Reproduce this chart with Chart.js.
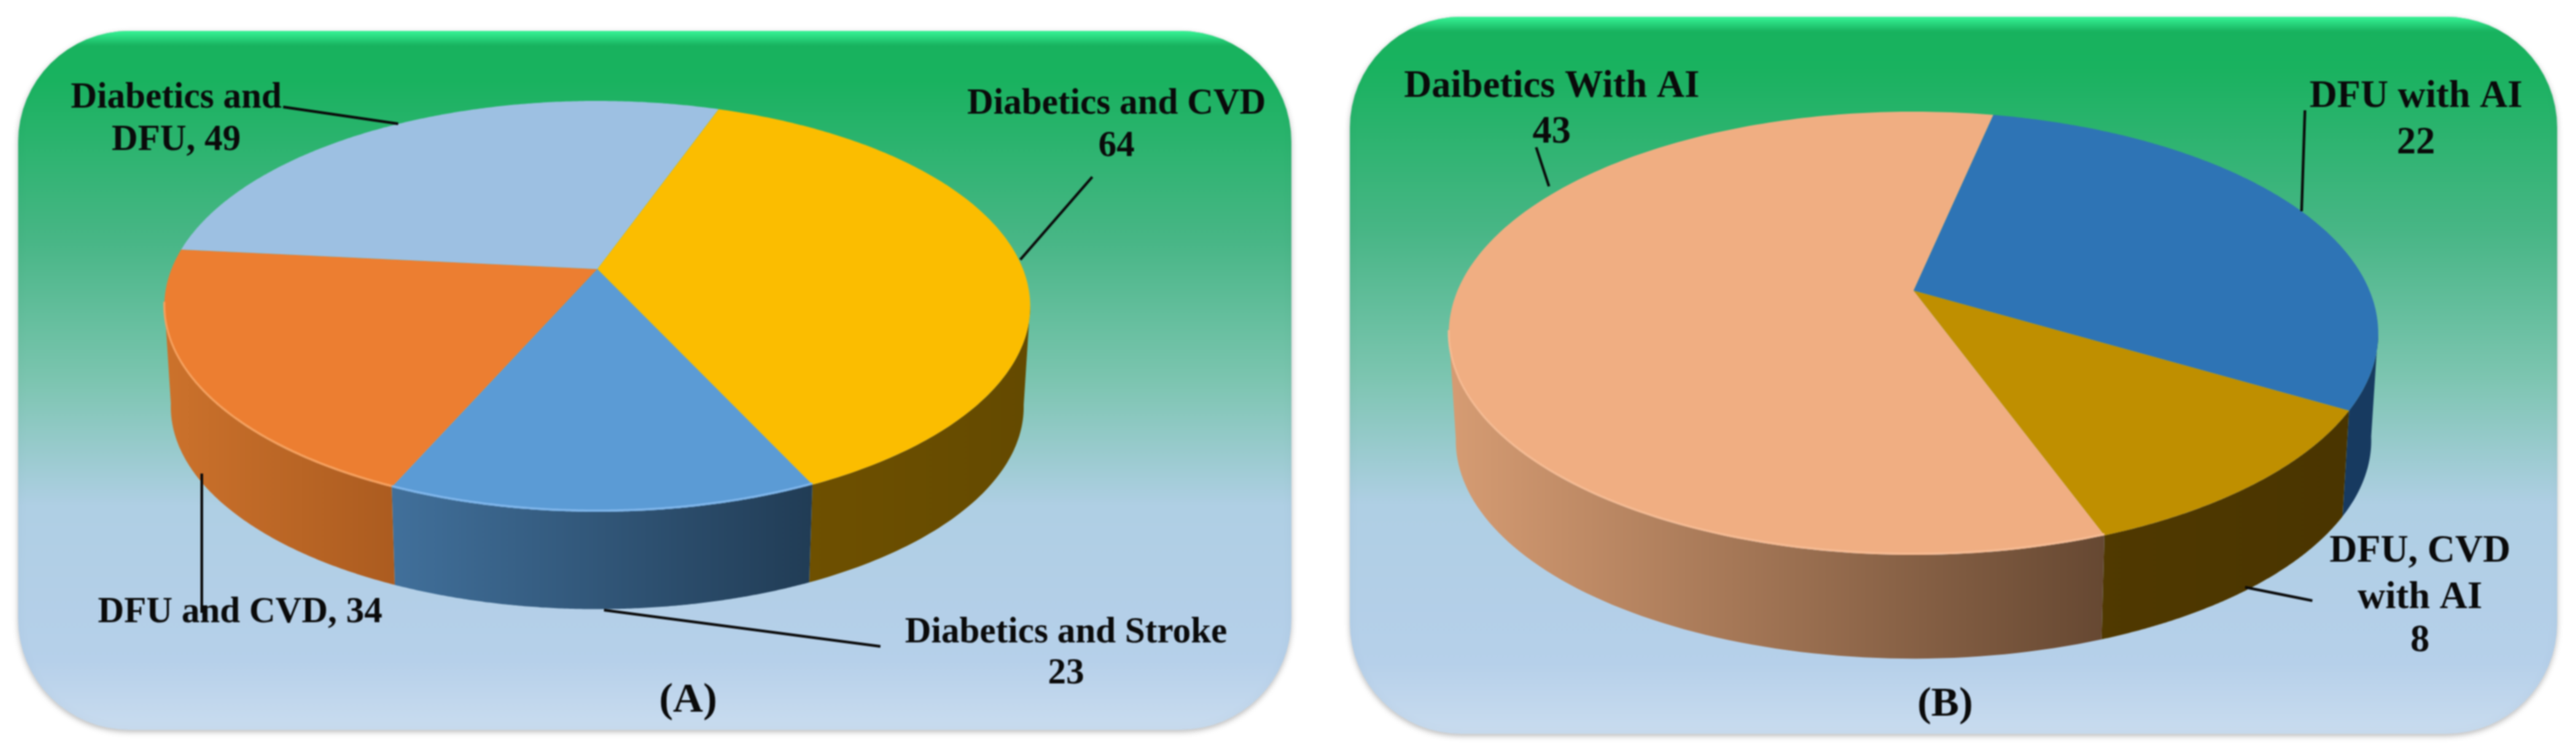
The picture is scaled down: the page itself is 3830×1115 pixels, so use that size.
<!DOCTYPE html>
<html>
<head>
<meta charset="utf-8">
<title>Pie charts</title>
<script src="https://cdn.jsdelivr.net/npm/chart.js@4"></script>
<style>
    html, body { margin: 0; padding: 0; background: #fff; }
    canvas { position: absolute; top: 0; filter: blur(0.8px); }
</style>
</head>
<body>
<canvas id="chartA" width="1960" height="1115" style="left:0"></canvas>
<canvas id="chartB" width="1870" height="1115" style="left:1960px"></canvas>
<script>
// Panel A
const categoriesA = ['Diabetics and CVD', 'Diabetics and Stroke', 'DFU and CVD', 'Diabetics and DFU'];
const valuesA = [64, 23, 34, 49];
const colorsA = ['#fbbd00', '#5b9bd5', '#ec7e31', '#9dc0e2'];
const wallLeftA = ['#6e5000', '#41709b', '#cc722c', '#9dc0e2'];
const wallRightA = ['#644a00', '#213c55', '#ac5c20', '#9dc0e2'];
const rimA = [null, '#7fb5ea', '#f5a05e', null];

// Panel B
const categoriesB = ['DFU with AI', 'DFU, CVD with AI', 'Daibetics With AI'];
const valuesB = [22, 8, 43];
const colorsB = ['#2e74b5', '#bf8f00', '#f0ae82'];
const wallLeftB = ['#173a60', '#503900', '#d69c73'];
const wallRightB = ['#173a60', '#4a3500', '#664832'];
const rimB = [null, null, '#f5ba92'];

// where the tilted pie sits on the page, plus labels and leader lines
const viewA = {
    left: 0, title: '(A)', titleX: 1023, titleY: 1058, font: 'bold 54px "Liberation Serif"',
    panel: { x: 27, y: 46, w: 1893, h: 1039, r: 165 },
    pie: { x: 888, y: 400, a: 295.4, b: 633, k: 0.1817, depth: 150, shrink: 0.985 },
    labels: [
        { lines: ['Diabetics and CVD', '64'], x: 1660, y: [169, 232] },
        { lines: ['Diabetics and Stroke', '23'], x: 1585, y: [955, 1016] },
        { lines: ['DFU and CVD, 34'], x: 357, y: [925] },
        { lines: ['Diabetics and', 'DFU, 49'], x: 262, y: [160, 223] }
    ],
    leaders: [[1624, 263, 1517, 386], [898, 907, 1309, 961], [300, 704, 300, 911], [421, 159, 592, 184]]
};
const viewB = {
    left: 1960, title: '(B)', titleX: 2892, titleY: 1064, font: 'bold 57px "Liberation Serif"',
    panel: { x: 2007, y: 25, w: 1795, h: 1066, r: 165 },
    pie: { x: 2845, y: 432, a: 317.3, b: 678, k: 0.1927, depth: 160, shrink: 0.985 },
    labels: [
        { lines: ['DFU with AI', '22'], x: 3592, y: [159, 228] },
        { lines: ['DFU, CVD', 'with AI', '8'], x: 3598, y: [835, 904, 968] },
        { lines: ['Daibetics With AI', '43'], x: 2307, y: [144, 212] }
    ],
    leaders: [[3427, 164, 3422, 314], [3338, 873, 3438, 893], [2284, 219, 2303, 277]]
};

const titleFont = 'bold 62px "Liberation Serif"';

// circle point -> page point, with the near side of the pie drawn bigger
function project(p, t) {
    const u = Math.cos(t), v = Math.sin(t);
    const w = 1 - p.k * v;
    return { x: p.x + p.b * u / w, y: p.y + p.a * v / w };
}

function dropToBase(p, q) {
    return {
        x: p.x + (q.x - p.x) * p.shrink,
        y: p.y + (q.y - p.y) * p.shrink + p.depth
    };
}

function drawPanel(ctx, panel) {
    const { x, y, w, h, r } = panel;
    ctx.save();
    ctx.shadowColor = 'rgba(0,0,0,0.28)';
    ctx.shadowBlur = 8;
    ctx.shadowOffsetY = 3;
    const fill = ctx.createLinearGradient(0, y, 0, y + h);
    fill.addColorStop(0, '#17b25e');
    fill.addColorStop(0.07, '#19b25f');
    fill.addColorStop(0.3, '#48b686');
    fill.addColorStop(0.5, '#7cc5b0');
    fill.addColorStop(0.68, '#afcfe4');
    fill.addColorStop(0.9, '#b6d0ea');
    fill.addColorStop(1, '#c9dcef');
    ctx.fillStyle = fill;
    ctx.beginPath();
    ctx.roundRect(x, y, w, h, r);
    ctx.fill();
    ctx.restore();

    // soft bevel on the rim
    ctx.save();
    ctx.beginPath();
    ctx.roundRect(x, y, w, h, r);
    ctx.clip();
    const top = ctx.createLinearGradient(0, y, 0, y + 22);
    top.addColorStop(0, 'rgba(60,255,160,0.85)');
    top.addColorStop(1, 'rgba(60,255,160,0)');
    ctx.fillStyle = top;
    ctx.fillRect(x, y, w, 22);
    ctx.shadowColor = 'rgba(0,50,40,0.35)';
    ctx.shadowBlur = 16;
    ctx.strokeStyle = 'rgba(0,0,0,0.25)';
    ctx.lineWidth = 3;
    ctx.beginPath();
    ctx.roundRect(x - 2, y - 12, w + 4, h + 14, r);
    ctx.stroke();
    ctx.restore();
}

function visibleRim(arc, p) {
    const rim = [];
    const steps = 160;
    for (let s = 0; s <= steps; s++) {
        const t = arc.startAngle + (arc.endAngle - arc.startAngle) * s / steps;
        if (Math.sin(t) >= p.k - 0.02) rim.push(project(p, t));
    }
    return rim;
}

function drawWalls(ctx, arcs, p, leftColors, rightColors) {
    arcs.forEach((arc, i) => {
        const rim = visibleRim(arc, p);
        if (rim.length < 2) return;
        const grad = ctx.createLinearGradient(rim[0].x, 0, rim[rim.length - 1].x, 0);
        grad.addColorStop(0, rightColors[i]);
        grad.addColorStop(1, leftColors[i]);
        ctx.fillStyle = grad;
        ctx.beginPath();
        rim.forEach((q, j) => j ? ctx.lineTo(q.x, q.y) : ctx.moveTo(q.x, q.y));
        rim.slice().reverse().forEach(q => {
            const b = dropToBase(p, q);
            ctx.lineTo(b.x, b.y);
        });
        ctx.closePath();
        ctx.fill();
    });
}

function drawFaces(ctx, arcs, p, colors, rimColors) {
    arcs.forEach((arc, i) => {
        ctx.fillStyle = colors[i];
        ctx.beginPath();
        ctx.moveTo(p.x, p.y);
        const steps = 200;
        for (let s = 0; s <= steps; s++) {
            const q = project(p, arc.startAngle + (arc.endAngle - arc.startAngle) * s / steps);
            ctx.lineTo(q.x, q.y);
        }
        ctx.closePath();
        ctx.fill();
    });
    // light edge where the face meets the wall
    arcs.forEach((arc, i) => {
        if (!rimColors[i]) return;
        const rim = visibleRim(arc, p);
        ctx.strokeStyle = rimColors[i];
        ctx.lineWidth = 3;
        ctx.beginPath();
        rim.forEach((q, j) => j ? ctx.lineTo(q.x, q.y - 2) : ctx.moveTo(q.x, q.y - 2));
        ctx.stroke();
    });
}

function drawTexts(ctx, view) {
    ctx.strokeStyle = '#0a0a0a';
    ctx.lineWidth = 4;
    view.leaders.forEach(l => {
        ctx.beginPath();
        ctx.moveTo(l[0], l[1]);
        ctx.lineTo(l[2], l[3]);
        ctx.stroke();
    });
    ctx.fillStyle = '#0a0a0a';
    ctx.font = view.font;
    ctx.textAlign = 'center';
    ctx.textBaseline = 'alphabetic';
    view.labels.forEach(lb => {
        lb.lines.forEach((line, i) => ctx.fillText(line, lb.x, lb.y[i]));
    });
    ctx.font = titleFont;
    ctx.fillText(view.title, view.titleX, view.titleY);
}

const tiltedPie = {
    id: 'tiltedPie',
    beforeDraw(chart, args, opts) {
        const ctx = chart.ctx;
        ctx.save();
        ctx.translate(-opts.view.left, 0);
        drawPanel(ctx, opts.view.panel);
        ctx.restore();
    },
    beforeDatasetDraw(chart, args, opts) {
        const ctx = chart.ctx;
        const arcs = chart.getDatasetMeta(args.index).data;
        ctx.save();
        ctx.translate(-opts.view.left, 0);
        drawWalls(ctx, arcs, opts.view.pie, opts.wallLeft, opts.wallRight);
        drawFaces(ctx, arcs, opts.view.pie, chart.data.datasets[args.index].backgroundColor, opts.rim);
        ctx.restore();
        return false;
    },
    afterDraw(chart, args, opts) {
        const ctx = chart.ctx;
        ctx.save();
        ctx.translate(-opts.view.left, 0);
        drawTexts(ctx, opts.view);
        ctx.restore();
    }
};

// Panel A chart
new Chart(document.getElementById('chartA'), {
    type: 'pie',
    data: {
        labels: categoriesA,
        datasets: [{ data: valuesA, backgroundColor: colorsA, borderWidth: 0 }]
    },
    options: {
        responsive: false,
        animation: false,
        rotation: 19.5,
        plugins: {
            legend: { display: false },
            tooltip: { enabled: false },
            tiltedPie: { view: viewA, wallLeft: wallLeftA, wallRight: wallRightA, rim: rimA }
        }
    },
    plugins: [tiltedPie]
});

// Panel B chart
new Chart(document.getElementById('chartB'), {
    type: 'pie',
    data: {
        labels: categoriesB,
        datasets: [{ data: valuesB, backgroundColor: colorsB, borderWidth: 0 }]
    },
    options: {
        responsive: false,
        animation: false,
        rotation: 12,
        plugins: {
            legend: { display: false },
            tooltip: { enabled: false },
            tiltedPie: { view: viewB, wallLeft: wallLeftB, wallRight: wallRightB, rim: rimB }
        }
    },
    plugins: [tiltedPie]
});
</script>
</body>
</html>
